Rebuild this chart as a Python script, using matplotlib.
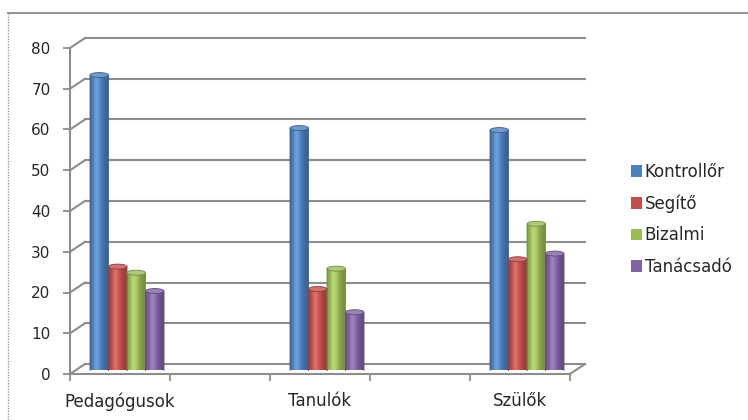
import numpy as np
import matplotlib
matplotlib.use('Agg')
import matplotlib.pyplot as plt
from matplotlib.patches import Ellipse, PathPatch, Rectangle
from matplotlib.path import Path
from matplotlib.lines import Line2D
from matplotlib.colors import to_rgb

# ---------------- data ----------------
categories = ['Pedagógusok', 'Tanulók', 'Szülők']
series_names = ['Kontrollőr', 'Segítő', 'Bizalmi', 'Tanácsadó']
kontrollor = [72.5, 59.5, 59.0]
segito = [25.5, 20.0, 27.3]
bizalmi = [24.0, 25.0, 36.0]
tanacsado = [19.5, 14.3, 28.7]
y_ticks = [0, 10, 20, 30, 40, 50, 60, 70, 80]
colors = ['#4F81BD', '#C0504D', '#9BBB59', '#8064A2']
series = [kontrollor, segito, bizalmi, tanacsado]

# ---------------- layout ----------------
W, H = 748, 420
fig = plt.figure(figsize=(W / 100, H / 100), dpi=100)
fig.patch.set_facecolor('white')


def px(l, t, w, h):
    return [l / W, 1 - (t + h) / H, w / W, h / H]


PXU = 4.075          # pixels per value unit
GRID = '#8c8c8c'
TXT = '#262626'
DX, DY = 0.15, 10 / PXU   # depth offset in data units (15 px, 10 px)

# front axes (axis lines, ticks, labels, back wall grid)
axf = fig.add_axes(px(70, 374 - 80 * PXU, 500, 80 * PXU))
axf.set_facecolor('none')
axf.set_xlim(-0.5, 4.5)
axf.set_ylim(0, 80)
for s in ['top', 'right']:
    axf.spines[s].set_visible(False)
for s in ['left', 'bottom']:
    axf.spines[s].set_color(GRID)
    axf.spines[s].set_linewidth(1.5)

xmin, xmax = -0.5, 4.5
for v in y_ticks:
    axf.add_line(Line2D([xmin + DX, xmax + DX], [v + DY, v + DY], color=GRID,
                        lw=1.5, clip_on=False, zorder=1))
    axf.add_line(Line2D([xmin, xmin + DX], [v, v + DY], color=GRID,
                        lw=1.5, clip_on=False, zorder=1))
axf.add_line(Line2D([xmax, xmax + DX], [0, DY], color=GRID, lw=1.5,
                    clip_on=False, zorder=1))

axf.set_yticks(y_ticks)
axf.set_yticklabels([str(v) for v in y_ticks])
axf.tick_params(axis='y', length=5, width=1.3, color=GRID, labelsize=11,
                labelcolor=TXT, pad=9)
cat_pos = [2 * i for i in range(len(categories))]
axf.set_xticks(cat_pos)
axf.set_xticklabels(categories)
axf.set_xticks(np.arange(-0.5, 4.6, 1.0), minor=True)
axf.tick_params(axis='x', which='major', length=0, labelsize=12,
                labelcolor=TXT, pad=13)
axf.tick_params(axis='x', which='minor', length=5, width=1.3, color=GRID)

# bar axes (mid depth)
axb = fig.add_axes(px(77, 370.5 - 80 * PXU, 500, 80 * PXU))
axb.set_facecolor('none')
axb.axis('off')

n = len(series)
bw = 0.185
eh = 5 / PXU
t = np.linspace(0, 1, 96)
shade = 0.76 + 0.36 * np.exp(-((t - 0.38) / 0.3) ** 2)

for i, (vals, col) in enumerate(zip(series, colors)):
    xs = [p + (i - (n - 1) / 2) * bw for p in cat_pos]
    bars = axb.bar(xs, vals, width=bw, color='none', edgecolor='none')
    base = np.array(to_rgb(col))
    for rect in bars:
        x0 = rect.get_x()
        w = rect.get_width()
        h = rect.get_height()
        xc = x0 + w / 2
        th = np.linspace(np.pi, 2 * np.pi, 40)
        verts = [(x0, h), (x0, 0)]
        verts += [(xc + w / 2 * np.cos(a), eh / 2 * np.sin(a)) for a in th]
        verts += [(x0 + w, h), (x0, h)]
        path = Path(verts, closed=True)
        pp = PathPatch(path, transform=axb.transData, facecolor='none',
                       edgecolor='none')
        axb.add_patch(pp)
        rgb = np.clip(base[None, :] * shade[:, None], 0, 1)
        hl = np.exp(-((t - 0.33) / 0.12) ** 2)[:, None] * 0.15
        rgb = np.clip(rgb * (1 - hl) + hl, 0, 1)
        img = rgb[None, :, :]
        im = axb.imshow(img, extent=(x0, x0 + w, -eh / 2, h), aspect='auto',
                        interpolation='bilinear', zorder=2)
        im.set_clip_path(pp)
        axb.add_patch(PathPatch(path, transform=axb.transData,
                                facecolor='none',
                                edgecolor=tuple(base * 0.75), lw=0.6,
                                zorder=3))
        top = np.clip(base * 0.8 + 0.2, 0, 1)
        axb.add_patch(Ellipse((xc, h), w, eh, facecolor=tuple(top),
                              edgecolor=tuple(base * 0.75), lw=0.6,
                              zorder=4))

axb.set_xlim(-0.5, 4.5)
axb.set_ylim(0, 80)

# legend
handles = [Rectangle((0, 0), 1, 1, facecolor=c, edgecolor='none')
           for c in colors]
leg = fig.legend(handles, series_names, loc='center left',
                 bbox_to_anchor=(631 / W, 1 - 219.5 / H), frameon=False,
                 fontsize=12, handlelength=0.68, handleheight=0.68,
                 handletextpad=0.15, labelspacing=0.81, borderpad=0,
                 borderaxespad=0)
for txt in leg.get_texts():
    txt.set_color(TXT)

# chart frame
fig.add_artist(Line2D([8 / W, 8 / W], [0, 1 - 13 / H], transform=fig.transFigure,
                      color='#9a9a9a', lw=1.0, ls=(0, (1, 1))))
fig.add_artist(Line2D([8 / W, 1], [1 - 13 / H, 1 - 13 / H],
                      transform=fig.transFigure, color='#8a8a8a', lw=1.3))

fig.savefig('out.png', dpi=100)
